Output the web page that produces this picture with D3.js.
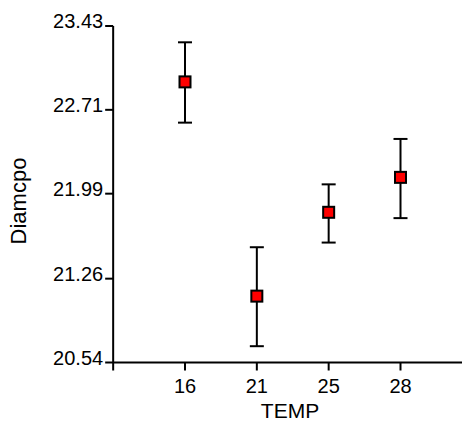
<!DOCTYPE html>
<html><head><meta charset="utf-8">
<script src="https://cdn.jsdelivr.net/npm/d3@7"></script>
<style>body{margin:0;background:#fff}svg{display:block}text{font-family:"Liberation Sans",Arial,sans-serif;fill:#000}</style>
</head><body>
<script>
const categories = ["16", "21", "25", "28"];
const means = [22.95, 21.11, 21.83, 22.13];
const upper = [23.29, 21.53, 22.07, 22.46];
const lower = [22.60, 20.68, 21.57, 21.78];
const yTicks = [20.54, 21.26, 21.99, 22.71, 23.43];
const xTitle = "TEMP";
const yTitle = "Diamcpo";

const W = 462, H = 430;
const svg = d3.select("body").append("svg").attr("width", W).attr("height", H);

const y = d3.scaleLinear().domain([20.54, 23.43]).range([362.5, 26]);
const x = d3.scalePoint().domain(categories).range([185, 400.5]);
const step = x.step();
const x0 = x(categories[0]) - step;

const g = svg.append("g");
g.append("line").attr("x1", x0).attr("x2", W).attr("y1", y(20.54)).attr("y2", y(20.54))
  .attr("stroke", "#000").attr("stroke-width", 2);
g.append("line").attr("x1", x0).attr("x2", x0).attr("y1", y(23.43)).attr("y2", y(20.54) + 8)
  .attr("stroke", "#000").attr("stroke-width", 2);

yTicks.forEach(t => {
  g.append("line").attr("x1", x0 - 8).attr("x2", x0).attr("y1", y(t)).attr("y2", y(t))
    .attr("stroke", "#000").attr("stroke-width", 2);
  g.append("text").attr("x", x0 - 10).attr("y", y(t) + 2).attr("text-anchor", "end")
    .attr("font-size", 20).text(t.toFixed(2));
});
categories.forEach(c => {
  g.append("line").attr("x1", x(c)).attr("x2", x(c)).attr("y1", y(20.54)).attr("y2", y(20.54) + 8)
    .attr("stroke", "#000").attr("stroke-width", 2);
  g.append("text").attr("x", x(c)).attr("y", 393).attr("text-anchor", "middle")
    .attr("font-size", 20).text(c);
});
svg.append("text").attr("x", 290).attr("y", 418).attr("text-anchor", "middle")
  .attr("font-size", 21).text(xTitle);
svg.append("text").attr("transform", "translate(26,201) rotate(-90)").attr("text-anchor", "middle")
  .attr("font-size", 22).text(yTitle);

const pts = svg.append("g");
categories.forEach((c, i) => {
  const cx = x(c);
  pts.append("line").attr("x1", cx).attr("x2", cx).attr("y1", y(upper[i])).attr("y2", y(lower[i]))
    .attr("stroke", "#000").attr("stroke-width", 2);
  [upper[i], lower[i]].forEach(v => {
    pts.append("line").attr("x1", cx - 7).attr("x2", cx + 7).attr("y1", y(v)).attr("y2", y(v))
      .attr("stroke", "#000").attr("stroke-width", 2);
  });
  pts.append("rect").attr("x", cx - 5.5).attr("y", y(means[i]) - 5.5).attr("width", 11).attr("height", 11)
    .attr("fill", "#ff0000").attr("stroke", "#000").attr("stroke-width", 2);
});
</script>
</body></html>
